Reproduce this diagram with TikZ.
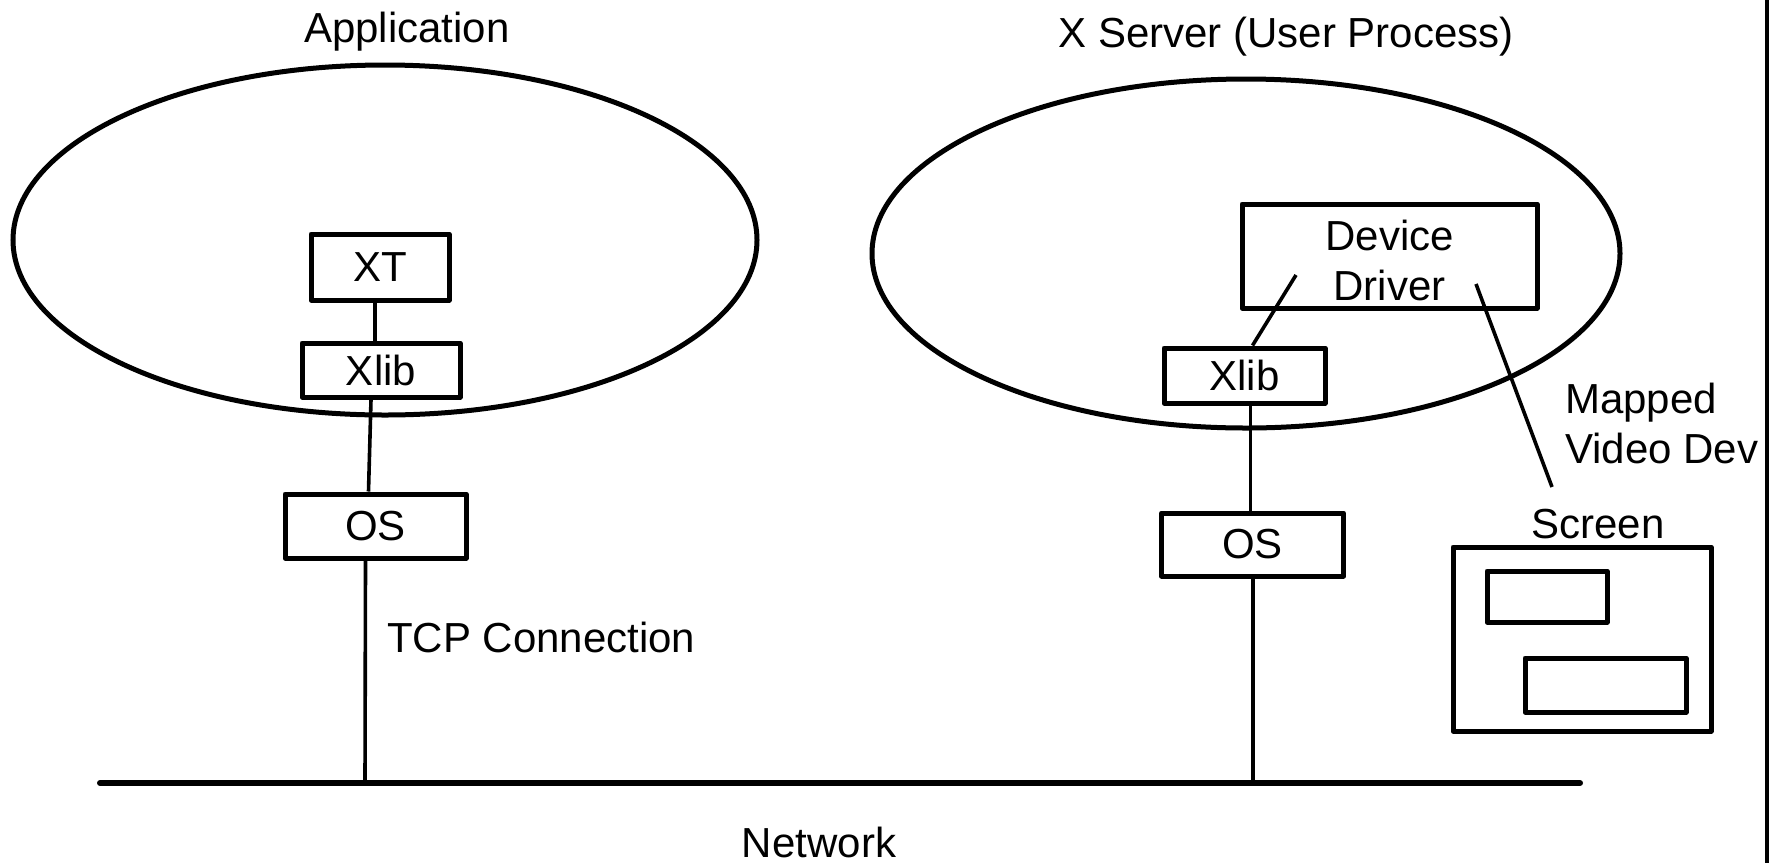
\documentclass[tikz,border=0pt]{standalone}
\usepackage{fontspec}
\setmainfont{Liberation Sans}
\usetikzlibrary{shapes.geometric}

\tikzset{
  lbl/.style={font=\fontsize{42}{50}\selectfont, inner sep=0pt},
  box/.style={draw, line width=5pt, line join=round, inner sep=0pt,
              font=\fontsize{42}{50}\selectfont, align=center},
  proc/.style={draw, ellipse, line width=5pt, inner sep=0pt},
  link/.style={line width=3.6pt},
  bus/.style={line width=6pt, line cap=round},
  frameline/.style={line width=3.4pt}
}

\begin{document}
\begin{tikzpicture}[x=1pt, y=-1pt]
\useasboundingbox (0,0) rectangle (1779,863);

% process ellipses
\node[proc, minimum width=744pt, minimum height=350pt] (appproc) at (385,240) {};
\node[proc, minimum width=748pt, minimum height=349pt] (srvproc) at (1246,253.5) {};

% titles
\node[lbl, anchor=base] (apptitle) at (407,42) {Application};
\node[lbl, anchor=base] (srvtitle) at (1286,47) {X Server (User Process)};

% application side
\node[box, minimum width=138pt, minimum height=66pt] (xt) at (380,267) {XT};
\node[box, minimum width=158pt, minimum height=54pt] (xlibL) at (381,370) {Xlib};
\node[box, minimum width=181pt, minimum height=64pt] (osL) at (375.5,526) {OS};

% server side
\node[box, minimum width=295pt, minimum height=104pt] (dd) at (1389.5,256) {};
\node[lbl, anchor=base] (ddtop) at (1389.5,250) {Device};
\node[lbl, anchor=base] (ddbot) at (1389.5,300) {Driver};
\node[box, minimum width=161pt, minimum height=55pt] (xlibR) at (1244.5,375.5) {Xlib};
\node[box, minimum width=182pt, minimum height=63pt] (osR) at (1252.5,544.5) {OS};

% screen with two windows
\node[lbl, anchor=base] (scrlabel) at (1598,538) {Screen};
\node[box, minimum width=258pt, minimum height=184pt] (screen) at (1582,639) {};
\node[box, minimum width=120pt, minimum height=51pt] (win1) at (1547,596.5) {};
\node[box, minimum width=161pt, minimum height=54pt] (win2) at (1605.5,685) {};

% network
\coordinate (netL) at (100,783);
\coordinate (netR) at (1580,783);
\coordinate (tapL) at (365,783);
\coordinate (tapR) at (1253,783);
\draw[bus] (netL) -- (netR);
\node[lbl, anchor=base] (netlabel) at (819,857) {Network};

% application stack connectors
\draw[link] ([xshift=-5pt]xt.south) -- ([xshift=-6pt]xlibL.north);
\draw[link] ([xshift=-10pt]xlibL.south) -- ([xshift=-7pt]osL.north);
\draw[link] ([xshift=-10pt]osL.south) -- (tapL);
\node[lbl, anchor=base west] (tcp) at (387,652) {TCP Connection};

% server stack connectors
\coordinate (ddin) at (1296,275);
\draw[link] ([xshift=8pt]xlibR.north) -- (ddin);
\draw[link] ([xshift=6pt]xlibR.south) -- ([xshift=-2pt]osR.north);
\draw[link] ([xshift=0.5pt]osR.south) -- (tapR);

% mapped video device link
\coordinate (ddmap) at (1476,284);
\coordinate (scrtop) at (1552,487);
\draw[link] (ddmap) -- (scrtop);
\node[lbl, anchor=base west] (mapped) at (1565,413) {Mapped};
\node[lbl, anchor=base west] (videodev) at (1565,463) {Video Dev};

% right frame edge
\draw[frameline] (1767,0) -- (1767,863);
\end{tikzpicture}
\end{document}
